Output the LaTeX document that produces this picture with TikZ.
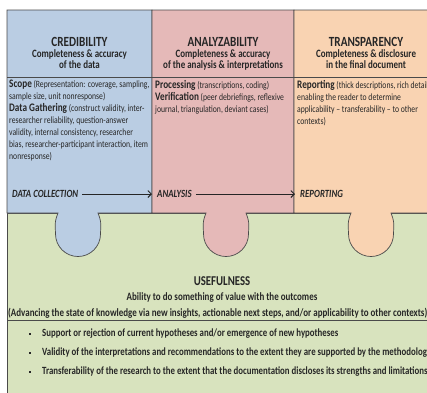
\documentclass[tikz,border=0pt]{standalone}
\usepackage{fontspec}
\setmainfont{Carlito}[FakeStretch=0.8]
\usetikzlibrary{arrows.meta}
\definecolor{cblue}{HTML}{BACDE3}
\definecolor{cpink}{HTML}{E5B9B8}
\definecolor{corange}{HTML}{F9D3B2}
\definecolor{cgreen}{HTML}{D8E3BE}
\definecolor{cline}{HTML}{4A4A4A}
\definecolor{ctext}{HTML}{262626}
\tikzset{
  x=1pt, y=-1pt,
  piece/.style={draw=cline, line width=0.7pt},
  title/.style={font=\bfseries\fontsize{14}{15}\selectfont, text=ctext, inner sep=0pt},
  sub/.style={font=\bfseries\fontsize{11.2}{12}\selectfont, text=ctext, inner sep=0pt, anchor=base},
  body/.style={font=\fontsize{9.6}{12}\selectfont, text=ctext, inner sep=0pt, anchor=north west, align=left},
  phase/.style={font=\bfseries\itshape\fontsize{11}{12}\selectfont, text=ctext, inner sep=0pt},
  flow/.style={draw=ctext, line width=0.9pt, -{Straight Barb[length=3.5pt,width=7pt]}},
  gtext/.style={font=\bfseries\fontsize{11.2}{12}\selectfont, text=ctext, inner sep=0pt},
  btext/.style={font=\bfseries\fontsize{11}{13}\selectfont, text=ctext, inner sep=0pt, anchor=west},
  sq/.style={fill=ctext, minimum size=2.8pt, inner sep=0pt},
}
\newcommand{\kw}[1]{{\fontsize{11.5}{12}\selectfont\bfseries #1}}
\newcommand{\tabpath}[1]{-- ({#1+20},213) .. controls ({#1+23},221) .. ({#1+22.5},234) arc[start angle=0, end angle=180, radius=22.5] .. controls ({#1-23},221) .. ({#1-20},213)}
\begin{document}
\begin{tikzpicture}
\useasboundingbox (0,0) rectangle (427,392);
\begin{scope}
\clip (0,0) rectangle (427,392);
\fill[white] (0,0) rectangle (427,392);
% green base
\path[piece, fill=cgreen] (7,213) rectangle (440,400);
% columns with tabs
\path[piece, fill=cblue] (7,10) -- (152,10) -- (152,213) \tabpath{78} -- (7,213) -- cycle;
\path[piece, fill=cpink] (152,10) -- (294,10) -- (294,213) \tabpath{226} -- (152,213) -- cycle;
\path[piece, fill=corange] (294,10) -- (440,10) -- (440,213) \tabpath{371} -- (294,213) -- cycle;
% header dividers
\draw[piece] (7,77) -- (440,77);
\draw[piece] (7,320) -- (440,320);
\end{scope}
% headers
\node[title] (t1) at (79.5,42) {CREDIBILITY};
\node[sub] (s1a) at (79.5,57.5) {Completeness \& accuracy};
\node[sub] (s1b) at (79.5,68) {of the data};
\node[title] (t2) at (223,42) {ANALYZABILITY};
\node[sub] (s2a) at (223,57.5) {Completeness \& accuracy};
\node[sub] (s2b) at (223,68) {of the analysis \& interpretations};
\node[title] (t3) at (366,42) {TRANSPARENCY};
\node[sub] (s3a) at (366,57.5) {Completeness \& disclosure};
\node[sub] (s3b) at (366,68) {in the final document};
% bodies
\node[body] (b1) at (9,80) {\kw{Scope} (Representation: coverage, sampling,\\sample size, unit nonresponse)\\\kw{Data Gathering} (construct validity, inter-\\researcher reliability, question-answer\\validity, internal consistency, researcher\\bias, researcher-participant interaction, item\\nonresponse)};
\node[body] (b2) at (155,80) {\kw{Processing} (transcriptions, coding)\\\kw{Verification} (peer debriefings, reflexive\\journal, triangulation, deviant cases)};
\node[body] (b3) at (297,80) {\kw{Reporting} (thick descriptions, rich details\\enabling the reader to determine\\applicability -- transferability -- to other\\contexts)};
% phases
\node[phase, anchor=west] (dc) at (12,194) {DATA COLLECTION};
\node[phase, anchor=west] (an) at (157,194) {ANALYSIS};
\node[phase, anchor=west] (rp) at (300,194) {REPORTING};
\draw[flow, shorten <=4pt, shorten >=5pt] (dc) -- (an);
\draw[flow, shorten <=4pt, shorten >=5pt] (an) -- (rp);
% usefulness
\node[font=\bfseries\fontsize{13.5}{14}\selectfont, text=ctext, inner sep=0pt] (u) at (222,281) {USEFULNESS};
\node[gtext] (u1) at (222,298) {Ability to do something of value with the outcomes};
\node[gtext, anchor=west] (u2) at (8,313) {(Advancing the state of knowledge via new insights, actionable next steps, and/or applicability to other contexts)};
\node[sq] (q1) at (30,334) {};
\node[sq] (q2) at (30,353) {};
\node[sq] (q3) at (30,372) {};
\node[btext] (l1) at (42,334) {Support or rejection of current hypotheses and/or emergence of new hypotheses};
\node[btext] (l2) at (42,353) {Validity of the interpretations and recommendations to the extent they are supported by the methodology};
\node[btext] (l3) at (42,372) {Transferability of the research to the extent that the documentation discloses its strengths and limitations};
\end{tikzpicture}
\end{document}
